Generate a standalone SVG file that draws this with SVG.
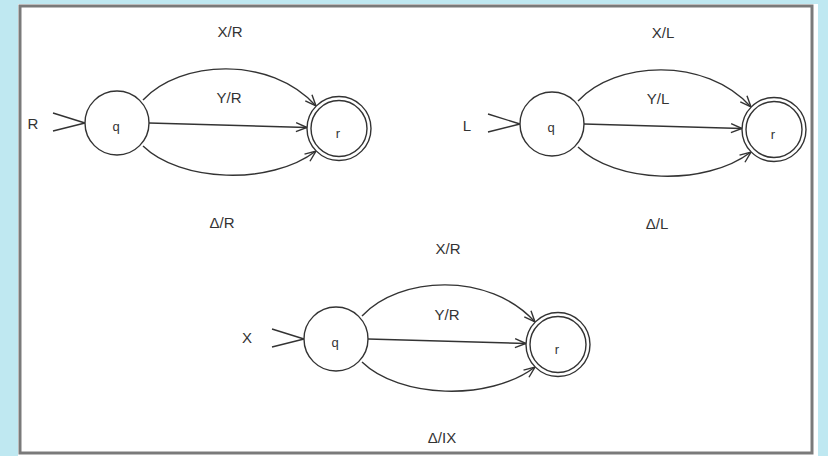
<svg xmlns="http://www.w3.org/2000/svg" width="828" height="456" viewBox="0 0 828 456">
<defs>
<marker id="arr" markerUnits="userSpaceOnUse" markerWidth="14" markerHeight="12" refX="12" refY="6" orient="auto" viewBox="0 0 14 12">
<path d="M1,1.5 L12,6 L1,10.5" fill="none" stroke="#333" stroke-width="1.4"/>
</marker>
</defs>
<style>
.st{fill:#fff;stroke:#333;stroke-width:1.4}
.e{fill:none;stroke:#333;stroke-width:1.4}
.ea{fill:none;stroke:#333;stroke-width:1.4;marker-end:url(#arr)}
.lb{font-family:"Liberation Sans",Arial,sans-serif;font-size:15px;fill:#333;text-anchor:middle}
.nl{font-family:"Liberation Sans",Arial,sans-serif;font-size:13px;fill:#333;text-anchor:middle}
</style>
<rect x="0" y="0" width="828" height="456" fill="#bfe8f1"/>
<rect x="18" y="4" width="800" height="452" fill="#fff"/>
<rect x="20" y="6" width="792" height="447" fill="none" stroke="#7a7a7a" stroke-width="3"/>

<g id="connectors">
<path class="e" d="M53,113 L85,123 M53,131 L85,123"/>
<path class="ea" d="M143,100 C180,60 270,55 316,106"/>
<path class="ea" d="M149,123 L307,127.5"/>
<path class="ea" d="M143,146 C180,182 270,186 316,151"/>

<path class="e" d="M488,114 L520,124 M488,132 L520,124"/>
<path class="ea" d="M578,101 C615,61 705,56 751,107"/>
<path class="ea" d="M584,124 L742,128.5"/>
<path class="ea" d="M578,147 C615,183 705,187 751,152"/>

<path class="e" d="M272,329 L304,339 M272,347 L304,339"/>
<path class="ea" d="M362,316 C399,276 489,271 535,322"/>
<path class="ea" d="M368,339 L526,343.5"/>
<path class="ea" d="M362,362 C399,398 489,402 535,367"/>
</g>

<g id="labels">
<text class="lb" x="33" y="129">R</text>
<text class="lb" x="230" y="37">X/R</text>
<text class="lb" x="229" y="103">Y/R</text>
<text class="lb" x="222" y="228">Δ/R</text>

<text class="lb" x="467" y="131">L</text>
<text class="lb" x="663" y="38">X/L</text>
<text class="lb" x="658" y="104">Y/L</text>
<text class="lb" x="657" y="229">Δ/L</text>

<text class="lb" x="247" y="343">X</text>
<text class="lb" x="448" y="254">X/R</text>
<text class="lb" x="447" y="320">Y/R</text>
<text class="lb" x="442" y="443">Δ/IX</text>
</g>

<g id="q1"><circle class="st" cx="117" cy="123" r="32"/><text class="nl" x="116" y="131">q</text></g>
<g id="r1"><circle class="st" cx="339" cy="128.5" r="32"/><circle class="e" cx="339" cy="128.5" r="28"/><text class="nl" x="338" y="138">r</text></g>

<g id="q2"><circle class="st" cx="552" cy="124" r="32"/><text class="nl" x="551" y="132">q</text></g>
<g id="r2"><circle class="st" cx="774" cy="129.5" r="32"/><circle class="e" cx="774" cy="129.5" r="28"/><text class="nl" x="773" y="139">r</text></g>

<g id="q3"><circle class="st" cx="336" cy="339" r="32"/><text class="nl" x="335" y="347">q</text></g>
<g id="r3"><circle class="st" cx="558" cy="344.5" r="32"/><circle class="e" cx="558" cy="344.5" r="28"/><text class="nl" x="557" y="354">r</text></g>
</svg>
